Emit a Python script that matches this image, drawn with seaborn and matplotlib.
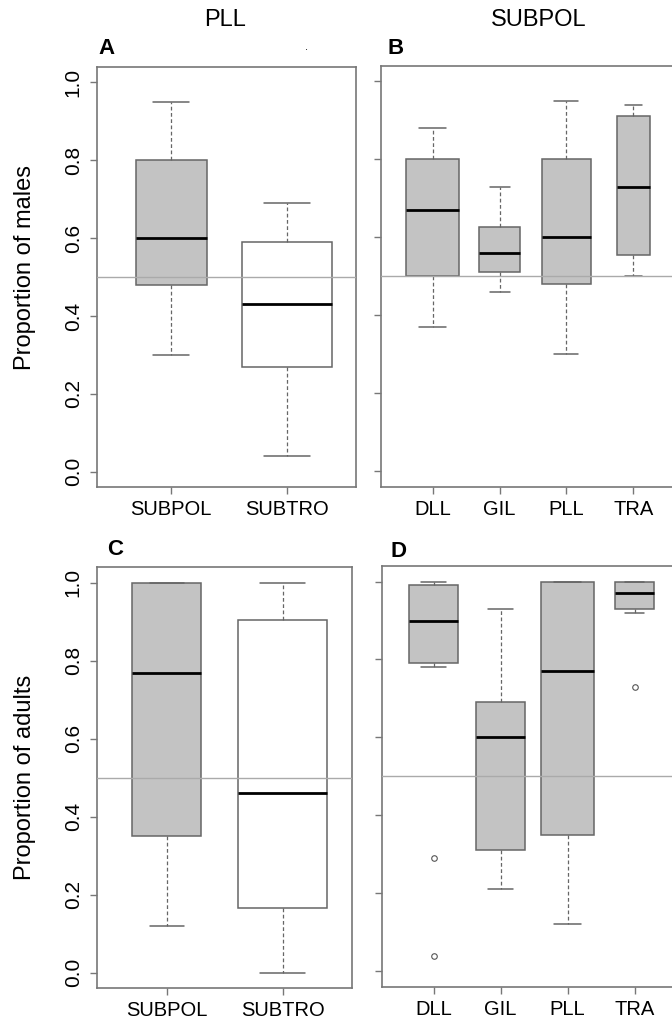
import numpy as np
import pandas as pd
import matplotlib
matplotlib.use('Agg')
import matplotlib.pyplot as plt
import seaborn as sns

# Categories
regions = ['SUBPOL', 'SUBTRO']
fleets = ['DLL', 'GIL', 'PLL', 'TRA']

# Five number summaries: min, q1, median, q3, max
males_pll = [[0.30, 0.48, 0.60, 0.80, 0.95],
             [0.04, 0.27, 0.43, 0.59, 0.69]]
males_subpol = [[0.37, 0.50, 0.67, 0.80, 0.88],
                [0.46, 0.51, 0.56, 0.625, 0.73],
                [0.30, 0.48, 0.60, 0.80, 0.95],
                [0.50, 0.555, 0.73, 0.91, 0.94]]
adults_pll = [[0.12, 0.35, 0.77, 1.00, 1.00],
              [0.00, 0.165, 0.46, 0.905, 1.00]]
adults_subpol = [[0.78, 0.79, 0.90, 0.99, 1.00],
                 [0.21, 0.31, 0.60, 0.69, 0.93],
                 [0.12, 0.35, 0.77, 1.00, 1.00],
                 [0.92, 0.93, 0.97, 1.00, 1.00]]

# Outliers (panel D)
outlier_groups = ['DLL', 'DLL', 'TRA']
outlier_values = [0.29, 0.04, 0.73]

yticks = [0.0, 0.2, 0.4, 0.6, 0.8, 1.0]

# Estilos
GREY = '#c3c3c3'
EDGE = '#666666'
AXIS = '#777777'
W, H = 672, 1021

sns.set_style('white')
plt.rcParams['font.family'] = ['Liberation Sans', 'DejaVu Sans']
plt.rcParams['text.color'] = 'black'


def draw_panel(ax, cats, summaries, widths, fills, xlim, show_ylabels, outliers=None):
    df = pd.DataFrame({'group': np.repeat(cats, 5),
                       'value': np.concatenate(summaries)})
    # one call per box so each can have its own width (varwidth)
    for cat, w, fc in zip(cats, widths, fills):
        sns.boxplot(data=df[df['group'] == cat], x='group', y='value',
                    order=cats, width=w, color=fc, saturation=1,
                    whis=(0, 100), linecolor=EDGE, linewidth=1.1,
                    medianprops={'color': 'black', 'linewidth': 2},
                    whiskerprops={'color': EDGE, 'linewidth': 0.9,
                                  'linestyle': (0, (3, 2))},
                    capprops={'color': EDGE, 'linewidth': 1.1},
                    capwidths=0.5 * w, ax=ax)
    if outliers is not None:
        sns.stripplot(x=outliers[0], y=outliers[1], order=cats, jitter=False,
                      color='white', edgecolor='#555555', linewidth=0.8,
                      size=4, ax=ax, zorder=5)
    ax.axhline(0.5, color='#aaaaaa', linewidth=1, zorder=10)
    ax.set_xlim(*xlim)
    ax.set_ylim(-0.04, 1.04)
    ax.set_xlabel('')
    ax.set_ylabel('')
    ax.set_yticks(yticks)
    if show_ylabels:
        ax.set_yticklabels([f'{v:.1f}' for v in yticks], rotation=90, va='center')
    else:
        ax.set_yticklabels([])
    ax.tick_params(axis='y', labelsize=15, length=5, width=1, color=AXIS,
                   labelcolor='black', pad=5, left=True)
    ax.tick_params(axis='x', labelsize=14.5, length=5, width=1, color=AXIS,
                   labelcolor='black', pad=4.5, bottom=True)
    for sp in ax.spines.values():
        sp.set_color(AXIS)
        sp.set_linewidth(1.2)
        sp.set_visible(True)


def axes_rect(left, top, right, bottom):
    return [left / W, 1 - bottom / H, (right - left) / W, (bottom - top) / H]


fig = plt.figure(figsize=(W / 100, H / 100), dpi=100)

ax_a = fig.add_axes(axes_rect(96.7, 66.7, 355.5, 487.3))
ax_b = fig.add_axes(axes_rect(380.7, 65.7, 677.5, 486.7))
ax_c = fig.add_axes(axes_rect(96.7, 567.3, 352.3, 988.3))
ax_d = fig.add_axes(axes_rect(382.3, 566.0, 678.9, 986.7))

draw_panel(ax_a, regions, males_pll, [0.61, 0.78], [GREY, 'white'],
           (-0.642, 1.59), True)
draw_panel(ax_b, fleets, males_subpol, [0.80, 0.60, 0.72, 0.49], [GREY] * 4,
           (-0.777, 3.66), False)
draw_panel(ax_c, regions, adults_pll, [0.59, 0.77], [GREY, 'white'],
           (-0.603, 1.60), True)
draw_panel(ax_d, fleets, adults_subpol, [0.73, 0.74, 0.80, 0.58], [GREY] * 4,
           (-0.767, 3.66), False, outliers=(outlier_groups, outlier_values))

# Titulos de columna
fig.text(225 / W, 1 - 19.5 / H, 'PLL', ha='center', va='center', fontsize=17)
fig.text(539 / W, 1 - 19.5 / H, 'SUBPOL', ha='center', va='center', fontsize=17)

# Etiquetas de paneles
for letter, x, y in [('A', 98, 54), ('B', 388, 53.5), ('C', 107, 555), ('D', 391, 556.5)]:
    fig.text(x / W, 1 - y / H, letter, ha='left', va='baseline',
             fontsize=16, fontweight='bold')
fig.text(307 / W, 1 - 50 / H, '.', ha='center', va='baseline', fontsize=8)

# Etiquetas del eje y
fig.text(25 / W, 1 - 268 / H, 'Proportion of males', rotation=90,
         ha='center', va='center', fontsize=17)
fig.text(25 / W, 1 - 777.5 / H, 'Proportion of adults', rotation=90,
         ha='center', va='center', fontsize=17)

fig.savefig('out.png', dpi=100)
